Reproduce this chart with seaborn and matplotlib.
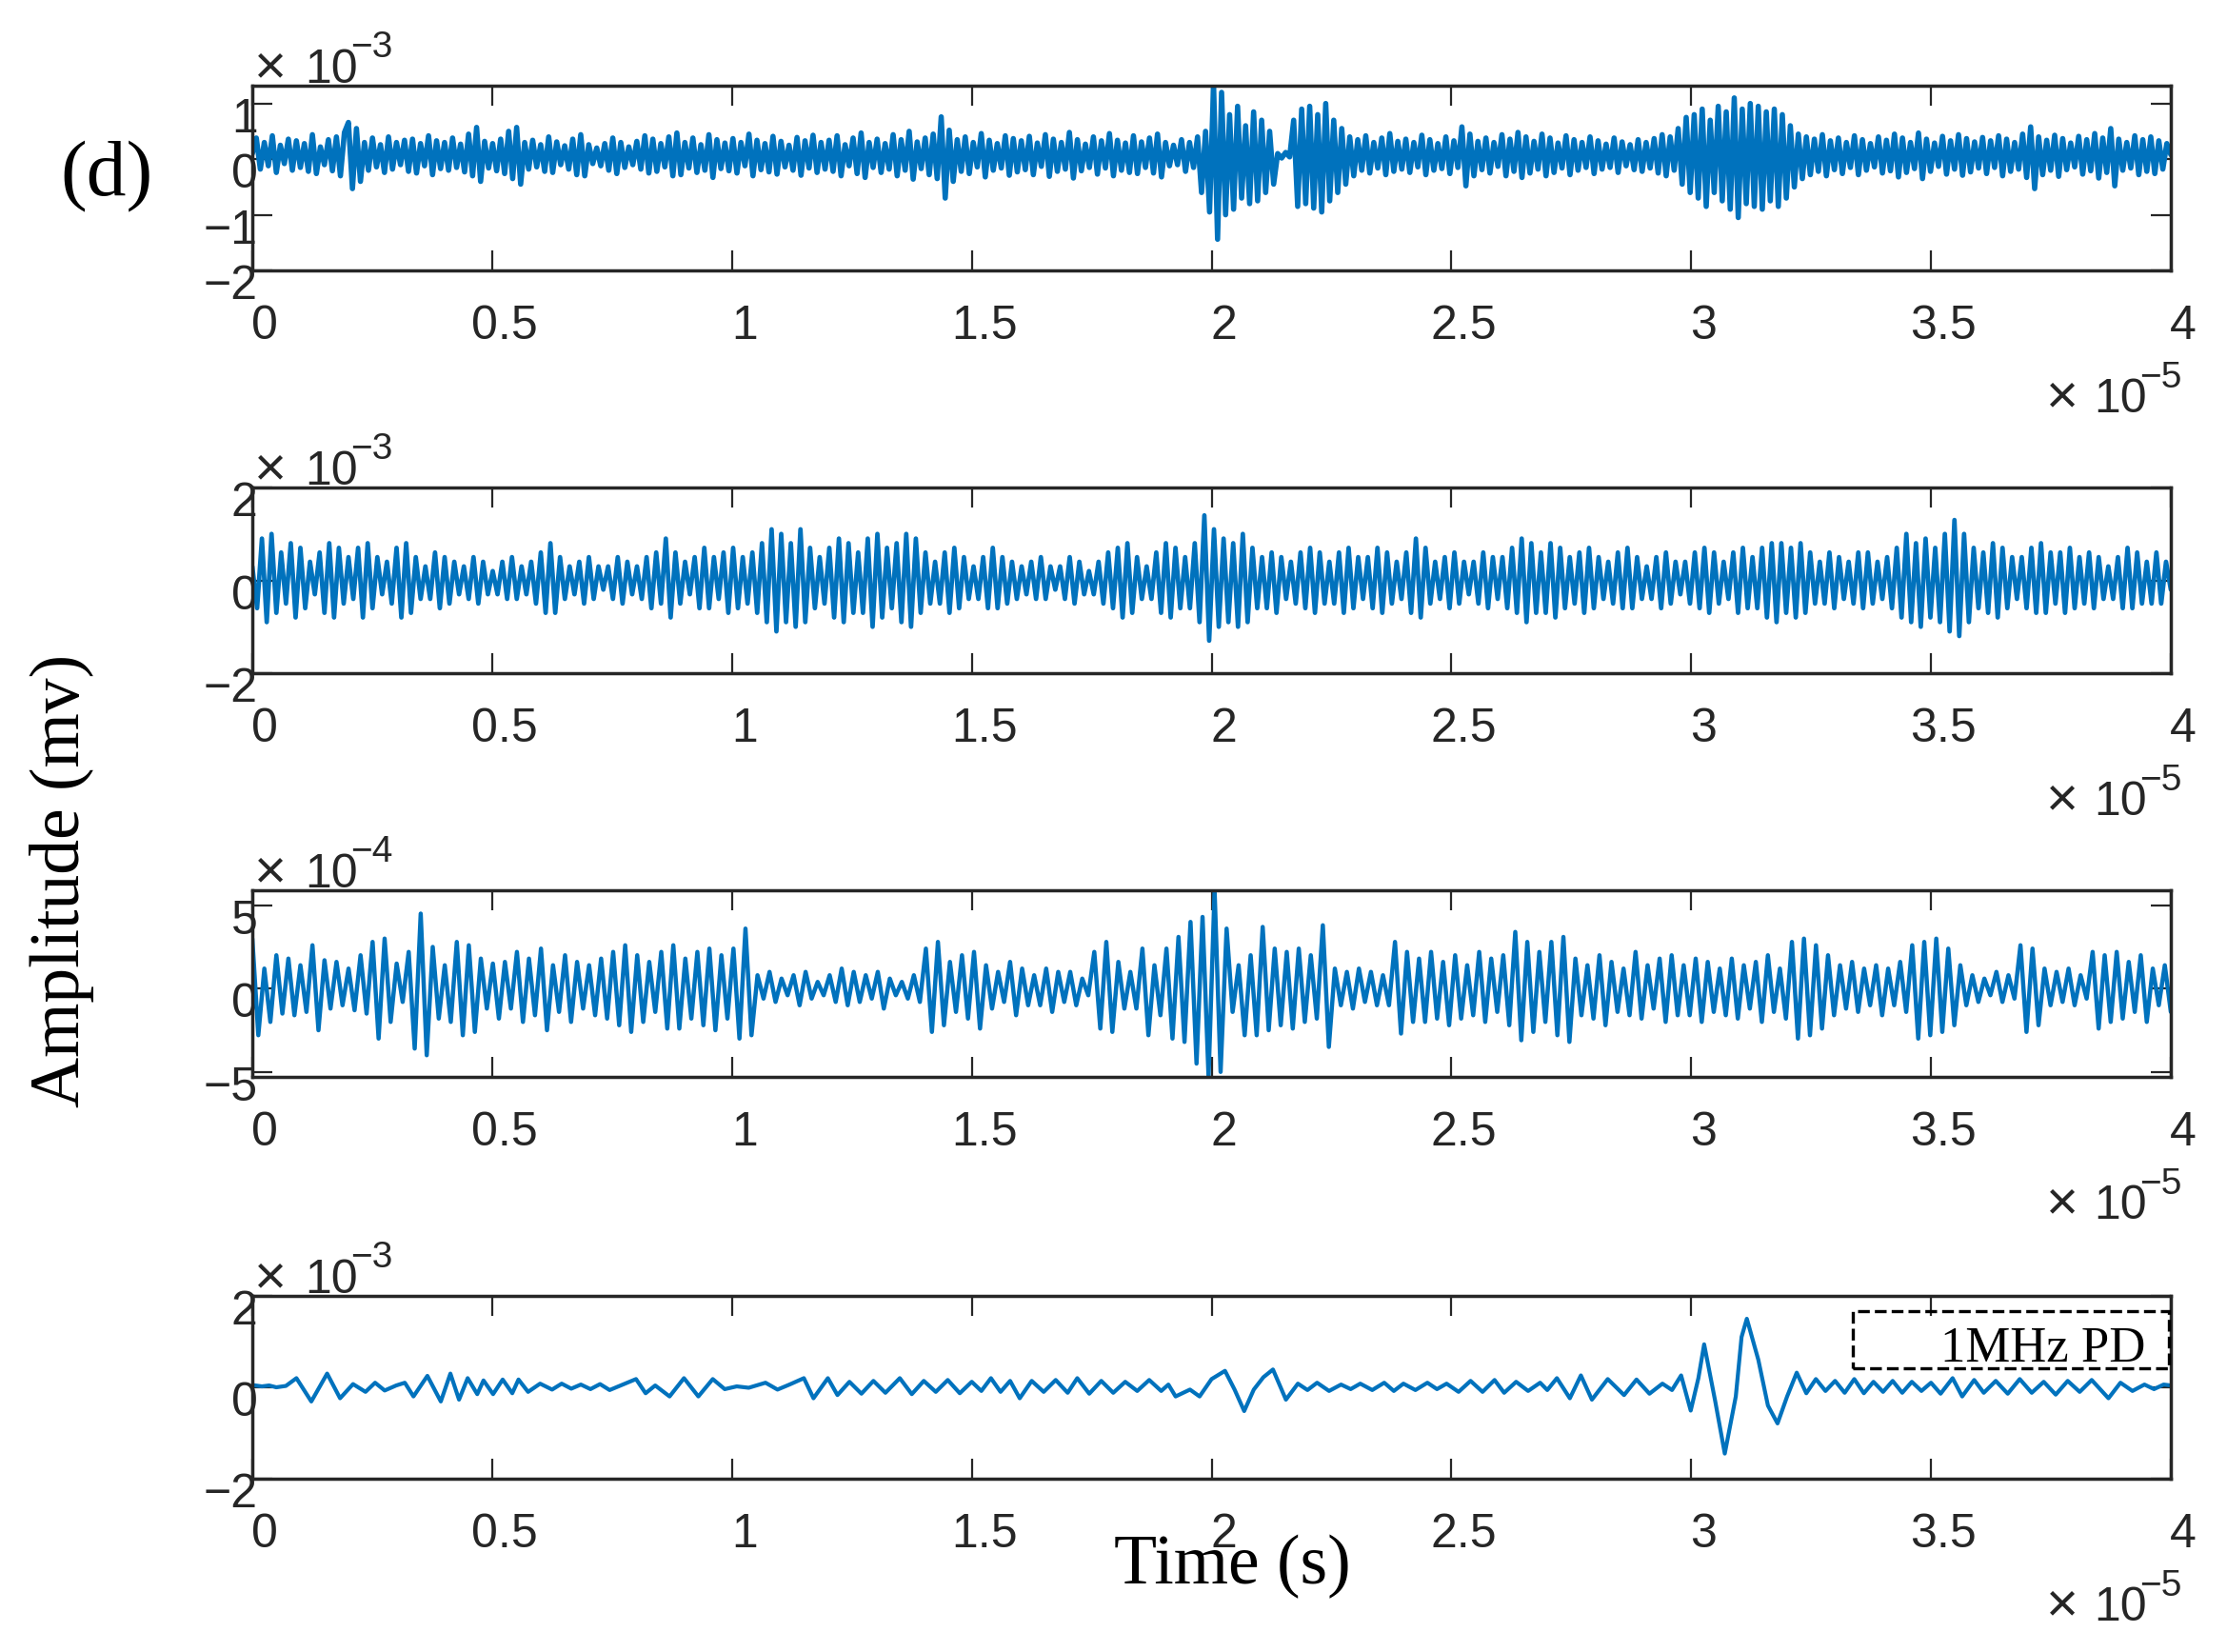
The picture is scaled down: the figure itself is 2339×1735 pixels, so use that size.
import numpy as np
import matplotlib
matplotlib.use("Agg")
import matplotlib.pyplot as plt
import matplotlib.transforms as mtransforms
from matplotlib.patches import Rectangle
import seaborn as sns

# ---------------- data ----------------
# time axis: seconds, 0 .. 4e-5 s
t_start, t_end = 0.0, 4e-5
xtick_vals = [0, 0.5e-5, 1e-5, 1.5e-5, 2e-5, 2.5e-5, 3e-5, 3.5e-5, 4e-5]
xtick_labels = ['0', '0.5', '1', '1.5', '2', '2.5', '3', '3.5', '4']

# panel 1: amplitude in units of 1e-5 mV (successive peaks / troughs, evenly spaced in time)
amp1_e5 = [
    10, 38, -18, 30, -12, 42, -24, 25, -8, 36, -20, 33, -15, 28, -22, 44, -26, 22, -10, 35, -21, 40, -30, 48,
    66, -53, 55, -40, 30, -20, 38, -14, 26, -24, 40, -18, 30, -10, 34, -22, 36, -25, 28, -12, 42, -28, 33, -17,
    30, -20, 38, -15, 27, -23, 45, -30, 57, -40, 32, -16, 28, -21, 36, -26, 50, -35, 57, -45, 30, -18, 34, -14,
    26, -22, 40, -24, 31, -10, 24, -18, 36, -28, 44, -30, 26, -8, 20, -12, 28, -20, 38, -26, 30, -15, 22, -10,
    32, -18, 42, -25, 36, -22, 28, -14, 40, -30, 47, -28, 30, -16, 38, -24, 26, -20, 44, -33, 35, -17, 29, -21,
    37, -25, 30, -12, 45, -30, 34, -19, 28, -23, 41, -27, 32, -14, 25, -20, 39, -29, 33, -16, 43, -24, 30, -18,
    34, -22, 42, -30, 26, -12, 38, -26, 47, -33, 30, -15, 36, -24, 28, -18, 44, -30, 35, -20, 50, -36, 31, -17,
    38, -28, 45, -35, 76, -70, 52, -40, 35, -22, 40, -26, 30, -14, 46, -32, 34, -20, 28, -16, 42, -29, 37, -23,
    33, -19, 41, -28, 29, -13, 44, -31, 36, -22, 30, -18, 48, -34, 35, -21, 27, -15, 40, -27, 33, -16, 46, -30,
    34, -20, 29, -24, 42, -26, 31, -15, 38, -25, 45, -32, 30, -12, 25, -10, 35, -22, 30, -15, 40, -60, 50, -95,
    135, -144, 120, -100, 80, -90, 95, -70, 60, -80, 85, -75, 70, -60, 50, -45, 10, 2, 12, 4, 70, -85, 90, -80,
    95, -88, 80, -95, 100, -75, 70, -60, 55, -45, 40, -30, 35, -20, 42, -25, 30, -16, 38, -28, 46, -22, 32, -18,
    36, -24, 30, -14, 43, -28, 35, -20, 28, -17, 40, -26, 33, -15, 58, -48, 45, -30, 32, -19, 38, -25, 30, -13,
    44, -30, 36, -22, 48, -33, 40, -25, 32, -18, 45, -30, 38, -24, 29, -16, 42, -28, 35, -20, 30, -15, 40, -26,
    33, -18, 27, -15, 38, -24, 31, -12, 26, -19, 35, -22, 30, -16, 37, -25, 44, -30, 40, -20, 55, -45, 75, -60,
    80, -70, 90, -85, 70, -60, 95, -75, 85, -90, 110, -105, 90, -80, 100, -85, 95, -90, 85, -75, 90, -85, 80, -70,
    60, -50, 45, -35, 40, -28, 36, -22, 44, -30, 33, -19, 38, -26, 30, -15, 42, -28, 35, -20, 28, -14, 40, -25,
    34, -21, 45, -32, 38, -24, 30, -17, 47, -35, 36, -22, 29, -13, 41, -27, 33, -18, 44, -29, 37, -23, 31, -16,
    39, -26, 33, -15, 42, -30, 36, -22, 30, -18, 45, -33, 58, -53, 40, -28, 34, -20, 43, -31, 37, -19, 29, -14,
    41, -27, 35, -21, 46, -34, 38, -24, 55, -48, 36, -20, 30, -16, 42, -28, 35, -22, 40, -26, 33, -18, 28, 8,
]

# panel 2: amplitude in units of 1e-4 mV (evenly spaced in time)
amp2_e4 = [
    3, -6, 9, -9, 10, -7, 6, -5, 8, -8, 7, -6, 4, -3, 6, -7, 8, -8, 7, -5,
    5, -4, 7, -8, 8, -6, 5, -3, 4, -5, 7, -8, 8, -7, 5, -4, 3, -4, 6, -6,
    5, -5, 4, -3, 3, -4, 5, -5, 4, -3, 2, -3, 4, -4, 5, -4, 3, -3, 4, -5,
    6, -7, 8, -7, 5, -4, 3, -3, 4, -5, 5, -4, 3, -2, 3, -4, 5, -5, 4, -3,
    3, -4, 5, -6, 6, -5, 9, -8, 6, -5, 4, -3, 5, -6, 7, -6, 5, -4, 6, -7,
    7, -6, 5, -5, 6, -7, 8, -9, 11, -11, 10, -9, 8, -10, 11, -9, 7, -6, 5, -5,
    7, -8, 9, -9, 8, -7, 6, -7, 9, -10, 10, -8, 7, -6, 8, -9, 10, -10, 9, -7,
    6, -5, 4, -5, 6, -7, 7, -6, 5, -4, 3, -4, 5, -6, 7, -6, 5, -5, 4, -4,
    3, -3, 4, -4, 5, -4, 3, -2, 3, -4, 5, -5, 4, -3, 2, -3, 4, -5, 6, -6,
    7, -8, 8, -7, 5, -4, 3, -4, 6, -7, 8, -8, 7, -6, 5, -6, 8, -9, 14, -13,
    11, -10, 9, -9, 8, -10, 10, -9, 7, -6, 5, -6, 6, -7, 5, -4, 4, -5, 6, -6,
    7, -7, 6, -5, 4, -5, 6, -7, 7, -6, 5, -4, 5, -6, 7, -7, 6, -5, 4, -4,
    6, -7, 9, -8, 7, -5, 4, -4, 5, -6, 6, -5, 4, -3, 4, -5, 6, -6, 5, -4,
    5, -6, 7, -7, 9, -9, 8, -7, 6, -7, 8, -8, 7, -6, 5, -5, 6, -7, 7, -6,
    5, -4, 4, -5, 6, -6, 7, -6, 5, -4, 3, -4, 5, -6, 6, -5, 4, -3, 4, -5,
    6, -6, 7, -7, 6, -5, 4, -4, 6, -7, 7, -6, 5, -6, 7, -8, 8, -9, 8, -7,
    7, -8, 8, -7, 6, -5, 4, -5, 6, -6, 5, -4, 4, -5, 6, -6, 6, -5, 4, -4,
    5, -6, 7, -8, 10, -9, 8, -10, 9, -8, 7, -9, 10, -11, 13, -12, 10, -9, 7, -6,
    6, -7, 8, -8, 7, -6, 5, -4, 5, -6, 7, -7, 8, -7, 6, -5, 6, -7, 7, -6,
    5, -5, 6, -6, 5, -4, 3, -4, 5, -6, 7, -6, 6, -5, 4, -5, 6, -5, 4, -2,
]

# panel 3: amplitude in units of 1e-5 mV (evenly spaced in time)
amp3_e5 = [
    30, -28, 12, -20, 20, -15, 18, -16, 14, -14, 26, -25, 17, -12, 16, -10, 12, -13, 20, -15,
    28, -30, 30, -20, 15, -8, 22, -36, 45, -40, 25, -18, 14, -20, 28, -28, 26, -26, 18, -12,
    15, -18, 16, -12, 22, -20, 18, -16, 24, -25, 14, -14, 20, -20, 16, -12, 14, -16, 18, -18,
    22, -22, 26, -26, 20, -20, 16, -14, 22, -24, 26, -24, 18, -18, 22, -22, 24, -25, 20, -18,
    24, -30, 36, -28, 8, -6, 10, -8, 6, -4, 8, -10, 10, -6, 4, -4, 8, -8, 12, -10,
    10, -8, 8, -6, 10, -12, 6, -4, 4, -6, 8, -8, 24, -26, 28, -22, 16, -14, 20, -18,
    22, -24, 14, -12, 10, -8, 16, -16, 12, -10, 8, -10, 12, -14, 10, -8, 10, -10, 6, -4,
    22, -24, 28, -26, 16, -12, 10, -12, 24, -28, 14, -16, 24, -30, 31, -32, 40, -45, 43, -53,
    59, -50, 36, -14, 14, -28, 20, -28, 37, -25, 24, -22, 22, -24, 24, -20, 20, -18, 38, -35,
    12, -10, 10, -12, 12, -8, 10, -10, 8, -10, 28, -27, 22, -20, 18, -20, 22, -18, 16, -22,
    20, -18, 14, -16, 22, -20, 18, -14, 20, -22, 34, -31, 28, -26, 22, -20, 28, -28, 31, -32,
    18, -16, 14, -18, 20, -22, 16, -14, 12, -16, 22, -18, 14, -12, 18, -20, 20, -16, 14, -16,
    18, -20, 16, -14, 12, -16, 18, -18, 14, -12, 16, -20, 20, -14, 12, -18, 28, -30, 30, -28,
    26, -24, 20, -16, 14, -12, 16, -14, 12, -10, 14, -16, 12, -10, 16, -14, 26, -30, 28, -28,
    30, -26, 24, -22, 14, -10, 8, -8, 6, -4, 10, -8, 8, -6, 26, -26, 24, -22, 12, -10,
    10, -8, 12, -10, 8, -6, 22, -24, 20, -20, 22, -18, 16, -14, 20, -20, 12, -10, 14, -14,
]

# panel 4 (1 MHz PD): times in units of 1e-5 s and amplitudes in units of 1e-5 mV
time4_e5 = [
    0.00, 0.02, 0.035, 0.05, 0.07, 0.092, 0.123, 0.156, 0.183, 0.21, 0.236, 0.256, 0.276, 0.30, 0.318,
    0.336, 0.365, 0.393, 0.413, 0.431, 0.449, 0.469, 0.482, 0.502, 0.522, 0.542, 0.555, 0.575, 0.60,
    0.625, 0.645, 0.665, 0.685, 0.705, 0.725, 0.745, 0.77, 0.80, 0.82, 0.84, 0.87, 0.90, 0.93, 0.96,
    0.985, 1.01, 1.035, 1.07, 1.095, 1.12, 1.15, 1.17, 1.20, 1.22, 1.245, 1.27, 1.295, 1.32, 1.35,
    1.375, 1.40, 1.425, 1.45, 1.475, 1.50, 1.52, 1.54, 1.56, 1.58, 1.60, 1.625, 1.65, 1.675, 1.70,
    1.72, 1.745, 1.77, 1.795, 1.82, 1.845, 1.87, 1.895, 1.91, 1.925, 1.955, 1.975, 2.00, 2.028,
    2.048, 2.068, 2.088, 2.108, 2.128, 2.155, 2.18, 2.20, 2.22, 2.245, 2.27, 2.29, 2.31, 2.335,
    2.36, 2.38, 2.40, 2.425, 2.45, 2.47, 2.49, 2.515, 2.54, 2.565, 2.59, 2.61, 2.635, 2.66, 2.685,
    2.70, 2.72, 2.747, 2.77, 2.793, 2.826, 2.86, 2.886, 2.913, 2.94, 2.96, 2.979, 2.999, 3.015,
    3.027, 3.05, 3.07, 3.093, 3.105, 3.116, 3.14, 3.16, 3.18, 3.20, 3.22, 3.24, 3.26, 3.28, 3.30,
    3.32, 3.34, 3.36, 3.38, 3.40, 3.42, 3.44, 3.46, 3.48, 3.50, 3.52, 3.545, 3.565, 3.59, 3.61,
    3.635, 3.66, 3.685, 3.71, 3.735, 3.76, 3.785, 3.81, 3.835, 3.87, 3.895, 3.92, 3.945, 3.965,
    3.985, 4.00,
]
amp4_e5 = [
    5, 2, 4, 0, 3, 20, -31, 30, -24, 7, -10, 10, -7, 4, 10,
    -20, 25, -31, 30, -27, 20, -15, 15, -15, 17, -13, 17, -10, 8,
    -5, 8, -3, 6, -4, 7, -6, 5, 18, -13, 4, -20, 20, -20, 18,
    -4, 2, -1, 10, -5, 6, 20, -24, 20, -17, 12, -14, 14, -12, 20,
    -15, 14, -10, 16, -13, 12, -8, 20, -10, 14, -24, 14, -10, 16, -12,
    20, -14, 14, -12, 12, -8, 16, -8, 6, -20, -5, -20, 18, 36,
    -5, -52, -5, 22, 39, -27, 8, -6, 10, -8, 6, -4, 8, -6,
    10, -8, 8, -6, 10, -4, 8, -10, 14, -10, 16, -12, 12, -8, 10,
    -6, 20, -24, 26, -27, 18, -17, 17, -14, 8, -6, 26, -51, 20,
    94, -30, -145, -20, 110, 150, 60, -40, -79, -20, 32, -13, 18, -8, 14,
    -12, 18, -13, 12, -10, 14, -12, 12, -8, 10, -14, 20, -20, 16, -12,
    14, -14, 18, -12, 12, -16, 14, -10, 16, -24, 10, -8, 6, -4,
    6, 4,
]

series_t = [np.linspace(t_start, t_end, len(amp1_e5)),
            np.linspace(t_start, t_end, len(amp2_e4)),
            np.linspace(t_start, t_end, len(amp3_e5)),
            np.array(time4_e5) * 1e-5]
series_y = [np.array(amp1_e5) * 1e-5, np.array(amp2_e4) * 1e-4,
            np.array(amp3_e5) * 1e-5, np.array(amp4_e5) * 1e-5]
ylims = [(-2e-3, 1.32e-3), (-2e-3, 2e-3), (-5.3e-4, 5.9e-4), (-2e-3, 2e-3)]
ytick_vals = [[-2e-3, -1e-3, 0, 1e-3], [-2e-3, 0, 2e-3], [-5e-4, 0, 5e-4], [-2e-3, 0, 2e-3]]
ytick_labels = [['−2', '−1', '0', '1'], ['−2', '0', '2'], ['−5', '0', '5'], ['−2', '0', '2']]
y_exponents = ['−3', '−3', '−4', '−3']
legend_text = '1MHz PD'

# ---------------- layout ----------------
sns.set_theme(style="white")
plt.rcParams['font.family'] = ['Liberation Sans', 'DejaVu Sans']

W, H = 2339, 1735
DPI = 100
fig = plt.figure(figsize=(W / DPI, H / DPI), dpi=DPI)
fig.patch.set_facecolor('white')

LEFT, RIGHT = 265, 2280
frames = [(90, 284), (512, 707), (935, 1131), (1361, 1553)]
line_widths = [4.0, 3.4, 3.2, 3.0]
LINE = '#0072BD'
INK = '#262626'
SERIF = ['Liberation Serif', 'DejaVu Serif']


def fx(px):
    return px / W


def fy(py):
    return 1 - py / H


for i, (top, bottom) in enumerate(frames):
    ax = fig.add_axes([fx(LEFT), fy(bottom), (RIGHT - LEFT) / W, (bottom - top) / H])
    sns.lineplot(x=series_t[i], y=series_y[i], ax=ax, color=LINE, linewidth=line_widths[i],
                 estimator=None, errorbar=None, sort=False)
    for ln in ax.get_lines():
        ln.set_linewidth(line_widths[i])
        ln.set_solid_joinstyle('round')
        ln.set_solid_capstyle('round')
    ax.set_xlim(t_start, t_end)
    ax.set_ylim(*ylims[i])
    ax.set_xlabel('')
    ax.set_ylabel('')
    ax.set_facecolor('white')
    for s in ax.spines.values():
        s.set_visible(True)
        s.set_linewidth(2.5)
        s.set_color(INK)
    ax.tick_params(axis='both', direction='in', length=15, width=1.6, color=INK,
                   top=True, right=True, bottom=True, left=True,
                   labelsize=36, labelcolor=INK)
    ax.tick_params(axis='x', pad=26)
    ax.tick_params(axis='y', pad=-4)
    ax.set_xticks(xtick_vals, xtick_labels)
    ax.set_yticks(ytick_vals[i], ytick_labels[i])
    for lab in ax.get_xticklabels():
        lab.set_transform(lab.get_transform() + mtransforms.ScaledTranslation(13 / DPI, 0, fig.dpi_scale_trans))
    for lab in ax.get_yticklabels():
        lab.set_transform(lab.get_transform() + mtransforms.ScaledTranslation(0, -12 / DPI, fig.dpi_scale_trans))

    # MATLAB-style exponent labels
    fig.text(fx(267), fy(top - 3), '×', fontsize=42, ha='left', va='baseline', color=INK)
    fig.text(fx(320), fy(top - 3), '10', fontsize=36, ha='left', va='baseline', color=INK)
    fig.text(fx(368), fy(top - 30), y_exponents[i], fontsize=28, ha='left', va='baseline', color=INK)
    fig.text(fx(2149), fy(bottom + 149), '×', fontsize=42, ha='left', va='baseline', color=INK)
    fig.text(fx(2199), fy(bottom + 149), '10', fontsize=36, ha='left', va='baseline', color=INK)
    fig.text(fx(2247), fy(bottom + 123), '−5', fontsize=28, ha='left', va='baseline', color=INK)

# legend-like dashed box in the last panel
fig.add_artist(Rectangle((fx(1946), fy(1437)), (2278 - 1946) / W, 60 / H, transform=fig.transFigure,
                         fill=False, linestyle='--', linewidth=2.4, edgecolor='black'))
fig.text(fx(2253), fy(1430), legend_text, fontsize=38, family=SERIF, ha='right', va='baseline', color='black')

fig.text(fx(112), fy(186), '(d)', fontsize=60, family=SERIF, ha='center', va='center', color='black')
fig.text(fx(65), fy(925), 'Amplitude (mv)', fontsize=53, family=SERIF, rotation=90,
         ha='center', va='center', color='black')
fig.text(fx(1294), fy(1645), 'Time (s)', fontsize=53, family=SERIF, ha='center', va='center', color='black')

fig.savefig('out.png', dpi=DPI, facecolor='white')
